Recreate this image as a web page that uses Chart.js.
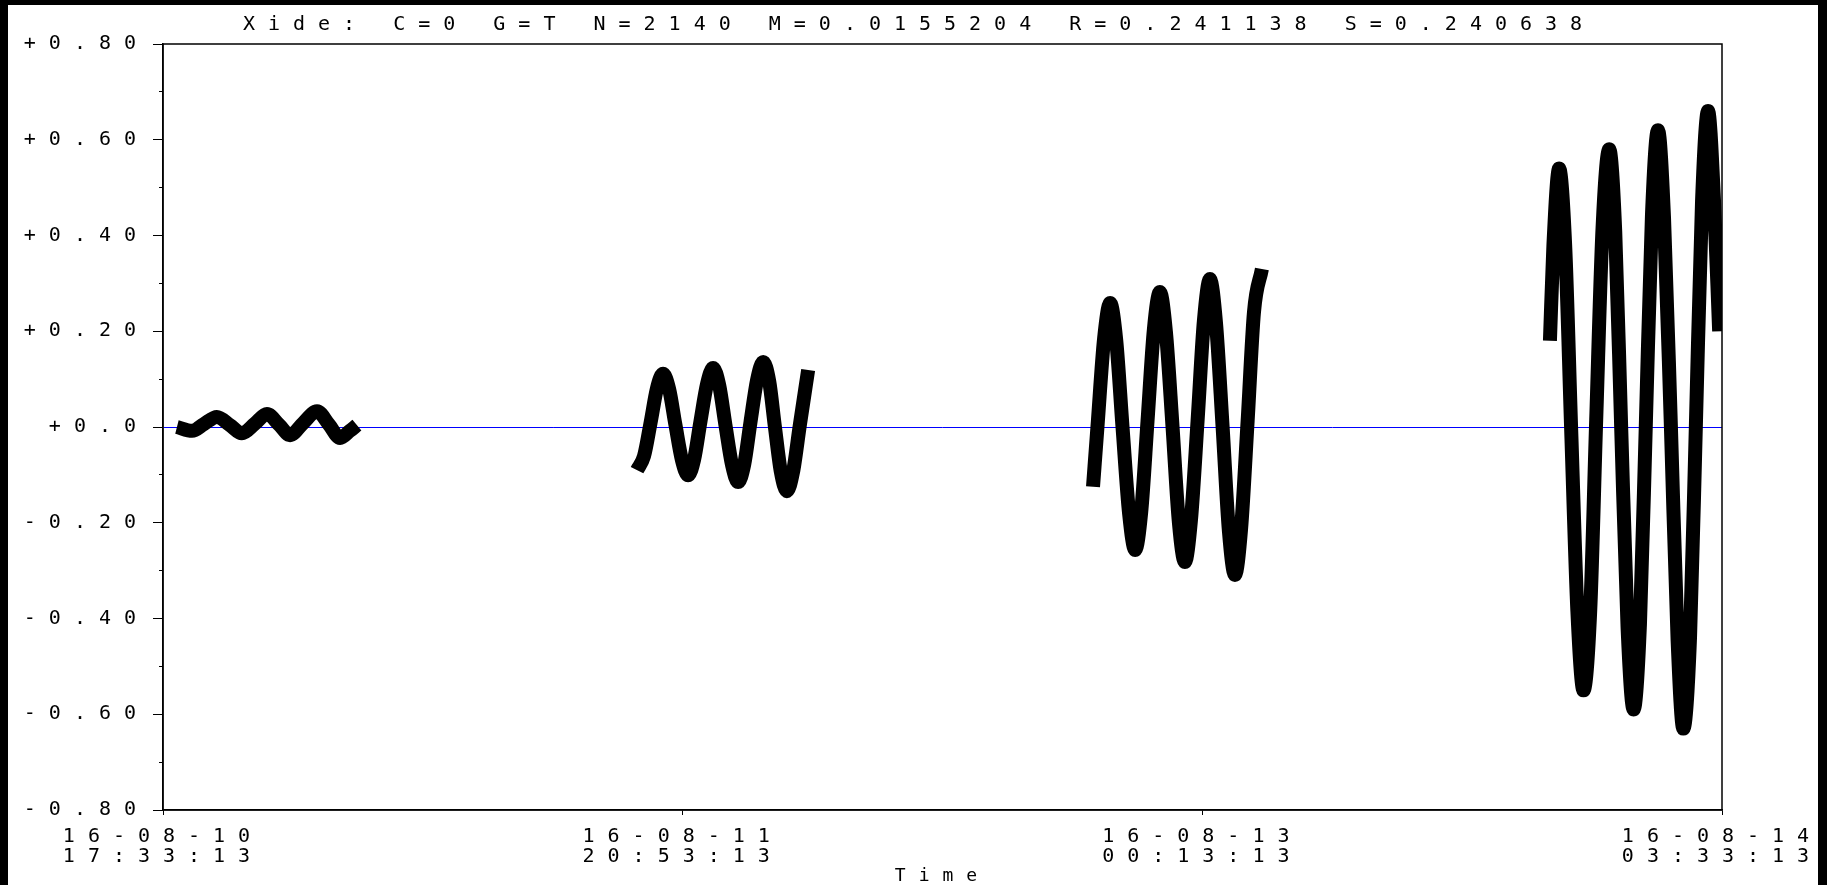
<!DOCTYPE html>
<html>
<head>
<meta charset="utf-8">
<title>Xide</title>
<script src="https://cdn.jsdelivr.net/npm/chart.js@4.4.1/dist/chart.umd.min.js"></script>
<style>
  html, body { margin: 0; padding: 0; background: #000; overflow: hidden; }
  #wrap { position: absolute; left: 8px; top: 5px; width: 1810px; height: 880px; background: #fff; }
  canvas { display: block; }
</style>
</head>
<body>
<div id="wrap"><canvas id="chart" width="1810" height="880"></canvas></div>
<script>
// x values are minutes after 16-08-10 17:33:13
const titleText = "Xide: C=0 G=T N=2140 M=0.0155204 R=0.241138 S=0.240638";
const xTickMinutes = [0, 1640, 3280, 4920];
const xTickLabels = [
    ["16-08-10", "17:33:13"],
    ["16-08-11", "20:53:13"],
    ["16-08-13", "00:13:13"],
    ["16-08-14", "03:33:13"]
];
const yTickValues = [0.8, 0.6, 0.4, 0.2, 0, -0.2, -0.4, -0.6, -0.8];
const yTickLabels = ["+0.80", "+0.60", "+0.40", "+0.20", "+0.0", "-0.20", "-0.40", "-0.60", "-0.80"];

const g1Minutes = [44, 92, 129, 170, 211, 249, 290, 328, 366, 401, 442, 486, 524, 559, 590, 612];
const g1Values = [0.000, -0.008, 0.006, 0.021, 0.004, -0.013, 0.007, 0.027, 0.005, -0.017, 0.008, 0.033, 0.005, -0.023, -0.008, 0.004];

const g2Minutes = [1496, 1518, 1539, 1559, 1578, 1597, 1617, 1638, 1657, 1676, 1696, 1717, 1736, 1755,
    1775, 1796, 1815, 1834, 1854, 1875, 1894, 1913, 1931, 1950, 1969, 1988, 2010, 2036];
const g2Values = [-0.090, -0.061, 0.010, 0.081, 0.111, 0.080, 0.005, -0.070, -0.101, -0.068, 0.011, 0.090, 0.123, 0.088,
    0.004, -0.080, -0.115, -0.079, 0.010, 0.099, 0.136, 0.096, 0.001, -0.094, -0.134, -0.095, 0.005, 0.119];

const g3Minutes = [2935, 2949, 2970, 2989, 3008, 3028, 3049, 3068, 3087, 3107, 3127, 3146, 3165, 3186,
    3206, 3225, 3244, 3265, 3285, 3304, 3323, 3344, 3364, 3383, 3402, 3423, 3443, 3468];
const g3Values = [-0.125, 0.000, 0.185, 0.259, 0.183, 0.001, -0.181, -0.257, -0.178, 0.012, 0.203, 0.282, 0.199, 0.000,
    -0.199, -0.282, -0.195, 0.013, 0.222, 0.309, 0.218, 0.000, -0.218, -0.309, -0.215, 0.013, 0.240, 0.330];

const g4Minutes = [4377, 4388, 4406, 4425, 4444, 4464, 4483, 4504, 4523, 4543, 4564, 4583, 4602, 4622, 4641,
    4661, 4680, 4699, 4718, 4737, 4759, 4780, 4798, 4819, 4838, 4857, 4876, 4895, 4911];
const g4Values = [0.18, 0.38, 0.54, 0.38, -0.005, -0.39, -0.55, -0.385, 0.015, 0.415, 0.58, 0.409, -0.005, -0.419, -0.59,
    -0.413, 0.015, 0.443, 0.62, 0.437, -0.005, -0.447, -0.63, -0.441, 0.015, 0.471, 0.66, 0.47, 0.20];

const FONT = "'DejaVu Sans Mono', monospace";
Chart.defaults.font.family = FONT;
Chart.defaults.color = "#000";

const isMajor = v => yTickValues.some(t => Math.abs(t - v) < 1e-9);

// wide plotter-style lettering
const wideText = {
    id: "wideText",
    beforeUpdate(chart) { chart.ctx.letterSpacing = "13px"; },
    beforeDraw(chart) { chart.ctx.letterSpacing = "13px"; }
};

// closed box round the plot
const frame = {
    id: "frame",
    afterDraw(chart) {
        const { ctx, chartArea: a } = chart;
        ctx.save();
        ctx.strokeStyle = "#000";
        ctx.lineWidth = 1.5;
        ctx.strokeRect(a.left, a.top, a.right - a.left, a.bottom - a.top);
        ctx.restore();
    }
};

const groups = [
    [g1Minutes, g1Values],
    [g2Minutes, g2Values],
    [g3Minutes, g3Values],
    [g4Minutes, g4Values]
];

new Chart(document.getElementById("chart"), {
    type: "scatter",
    data: {
        datasets: groups.map(([xs, ys]) => ({
            data: xs.map((x, i) => ({ x: x, y: ys[i] })),
            showLine: true,
            borderColor: "#000",
            backgroundColor: "#000",
            borderWidth: 14,
            borderJoinStyle: "round",
            pointRadius: 0,
            cubicInterpolationMode: "monotone"
        }))
    },
    options: {
        responsive: false,
        animation: false,
        layout: { padding: { left: 12, right: 0, top: 0, bottom: 0 } },
        plugins: {
            legend: { display: false },
            tooltip: { enabled: false },
            title: {
                display: true,
                text: titleText,
                color: "#000",
                font: { size: 20, weight: "normal", lineHeight: 1.2 },
                padding: { top: 7.5, bottom: 7.5 }
            }
        },
        scales: {
            x: {
                type: "linear",
                position: "bottom",
                min: 0,
                max: 4920,
                afterBuildTicks: s => { s.ticks = xTickMinutes.map(v => ({ value: v })); },
                afterFit: s => { s.height = 75; s.paddingLeft = 0; s.paddingRight = 0; },
                ticks: {
                    autoSkip: false,
                    maxRotation: 0,
                    padding: 12,
                    color: "#000",
                    font: { size: 20, lineHeight: 1.0 },
                    callback: v => {
                        const i = xTickMinutes.indexOf(v);
                        return i >= 0 ? xTickLabels[i] : "";
                    }
                },
                grid: { drawOnChartArea: false, tickLength: 5, tickColor: "#000", color: "#000" },
                border: { color: "#000", width: 1.5 },
                title: { display: true, text: "Time", color: "#000", font: { size: 18, lineHeight: 1.0 }, padding: 0 }
            },
            y: {
                position: "left",
                min: -0.8,
                max: 0.8,
                afterFit: s => { s.width = 143; s.paddingTop = 0; s.paddingBottom = 0; },
                ticks: {
                    stepSize: 0.1,
                    autoSkip: false,
                    padding: 4,
                    color: "#000",
                    font: { size: 20 },
                    callback: v => {
                        const i = yTickValues.findIndex(t => Math.abs(t - v) < 1e-9);
                        return i >= 0 ? yTickLabels[i] : "";
                    }
                },
                grid: {
                    tickLength: 10,
                    tickColor: "#000",
                    lineWidth: 1,
                    color: c => Math.abs(c.tick.value) < 1e-9 ? "#0000ff" : "rgba(0,0,0,0)",
                    tickBorderDash: c => isMajor(c.tick.value) ? [] : [4, 6],
                    tickBorderDashOffset: c => isMajor(c.tick.value) ? 0 : 4
                },
                border: { color: "#000", width: 1.5 }
            },
            yR: {
                position: "right",
                display: true,
                grid: { display: false },
                border: { display: false },
                ticks: { display: false },
                afterFit: s => { s.width = 96; }
            }
        }
    },
    plugins: [wideText, frame]
});
</script>
</body>
</html>
